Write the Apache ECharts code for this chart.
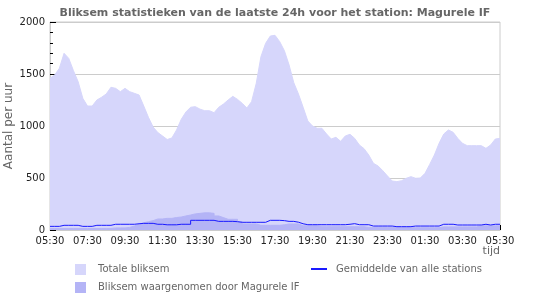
<!DOCTYPE html>
<html>
<head>
<meta charset="utf-8">
<script src="https://cdn.jsdelivr.net/npm/echarts@6/dist/echarts.min.js"></script>
<style>
  html, body { margin: 0; padding: 0; background: #fff; }
  #chart { width: 550px; height: 300px; }
</style>
</head>
<body>
<div id="chart"></div>
<script>
// 15-minute steps from 05:30 to 05:30 the next day (minutes since start)
const stepMinutes = 15
const tickLabels = ['05:30', '07:30', '09:30', '11:30', '13:30', '15:30', '17:30', '19:30', '21:30', '23:30', '01:30', '03:30', '05:30']

const totaal = [
  1460, 1490, 1555, 1699, 1650, 1532, 1426, 1266, 1192, 1192,
  1250, 1276, 1308, 1372, 1362, 1330, 1362, 1330, 1314, 1298,
  1192, 1083, 990, 937, 904, 870, 885, 962, 1064, 1135,
  1180, 1186, 1162, 1147, 1147, 1128, 1180, 1211, 1250, 1285,
  1256, 1218, 1173, 1234, 1410, 1667, 1795, 1865, 1872, 1811,
  1724, 1587, 1417, 1308, 1180, 1048, 1000, 978, 978, 923,
  875, 891, 853, 904, 920, 881, 817, 782, 721, 641,
  615, 570, 519, 471, 465, 474, 497, 513, 497, 500,
  545, 631, 721, 833, 923, 962, 939, 881, 833, 811,
  811, 811, 811, 785, 817, 875, 881
]

const station = [
  15, 15, 15, 15, 15, 15, 15, 15, 15, 15,
  15, 15, 15, 20, 20, 20, 25, 38, 55, 70,
  80, 90, 106, 106, 112, 112, 120, 125, 135, 144,
  155, 160, 165, 165, 160, 135, 119, 103, 103, 103,
  80, 58, 58, 58, 45, 45, 45, 45, 45, 50,
  58, 58, 58, 40, 40, 40, 40, 32, 32, 32,
  32, 32, 32, 32, 32, 32, 32, 25, 25, 25,
  25, 25, 25, 25, 25, 25, 22, 22, 22, 22,
  22, 22, 22, 30, 30, 30, 30, 30, 30, 30,
  30, 40, 40, 40, 40, 40, 40
]

const gemiddelde = [
  35, 35, 45, 45, 45, 45, 35, 35, 35, 45,
  45, 45, 45, 55, 55, 55, 55, 55, 60, 64,
  64, 64, 55, 55, 50, 50, 50, 55, 55, 55,
  93, 93, 93, 93, 93, 83, 83, 83, 83, 80,
  74, 74, 74, 74, 74, 74, 93, 93, 93, 90,
  83, 83, 75, 60, 51, 51, 51, 51, 51, 51,
  51, 51, 51, 55, 61, 51, 51, 51, 38, 38,
  38, 38, 38, 32, 32, 32, 32, 38, 38, 38,
  38, 38, 38, 55, 55, 55, 48, 48, 48, 48,
  48, 48, 55, 48, 55, 55, 55
]

const pairs = arr => arr.map((v, i) => [i * stepMinutes, v])

const chart = echarts.init(document.getElementById('chart'))
const font = 'DejaVu Sans'

chart.setOption({
  animation: false,
  backgroundColor: '#fff',
  title: {
    text: 'Bliksem statistieken van de laatste 24h voor het station: Magurele IF',
    left: 'center',
    top: 3,
    textStyle: { fontFamily: font, fontSize: 11, fontWeight: 'bold', color: '#666' },
  },
  grid: {
    left: 50, right: 50, top: 22, bottom: 70,
    outerBoundsMode: 'none',
    show: true, borderColor: '#ccc', borderWidth: 1,
  },
  legend: [
    {
      orient: 'vertical',
      left: 75,
      top: 264,
      padding: 0,
      itemGap: 7,
      itemWidth: 11,
      itemHeight: 11,
      textStyle: { fontFamily: font, fontSize: 10, color: '#666', padding: [0, 0, 0, 7] },
      data: [
        { name: 'Totale bliksem', icon: 'rect' },
        { name: 'Bliksem waargenomen door Magurele IF', icon: 'rect' },
      ],
    },
    {
      left: 311,
      top: 264,
      padding: 0,
      itemWidth: 16,
      itemHeight: 2,
      textStyle: { fontFamily: font, fontSize: 10, color: '#666', padding: [0, 0, 0, 4] },
      data: [{ name: 'Gemiddelde van alle stations', icon: 'path://M0,0H16V2H0Z' }],
    },
  ],
  xAxis: {
    type: 'value',
    min: 0,
    max: 1440,
    interval: 120,
    name: 'tijd',
    nameLocation: 'end',
    nameGap: 0,
    nameTextStyle: { fontFamily: font, fontSize: 11, color: '#666', align: 'right', verticalAlign: 'top', padding: [16, 0, 0, 0] },
    axisLine: { show: true, lineStyle: { color: '#ccc' } },
    axisTick: { show: true, inside: true, length: 5, lineStyle: { color: '#000' } },
    minorTick: { show: true, splitNumber: 4, length: 3, lineStyle: { color: '#000' } },
    splitLine: { show: false },
    axisLabel: {
      fontFamily: font, fontSize: 10, color: '#222', margin: 6,
      formatter: v => tickLabels[Math.round(v / 120)],
    },
  },
  yAxis: {
    type: 'value',
    min: 0,
    max: 2000,
    interval: 500,
    name: 'Aantal per uur',
    nameLocation: 'middle',
    nameGap: 35,
    nameMoveOverlap: false,
    nameTextStyle: { fontFamily: font, fontSize: 12, color: '#666' },
    axisLine: { show: true, lineStyle: { color: '#ccc' } },
    axisTick: { show: true, inside: true, length: 6, lineStyle: { color: '#000' } },
    minorTick: { show: true, splitNumber: 5, length: 3, lineStyle: { color: '#000' } },
    splitLine: { show: true, lineStyle: { color: '#ccc' } },
    axisLabel: { fontFamily: font, fontSize: 10, color: '#222', margin: 5, formatter: v => String(v) },
  },
  series: [
    {
      name: 'Totale bliksem',
      type: 'line',
      symbol: 'none',
      data: pairs(totaal),
      itemStyle: { color: '#d6d6fb' },
      lineStyle: { color: '#d6d6fb', width: 1 },
      areaStyle: { color: '#d6d6fb', opacity: 1 },
      z: 1,
    },
    {
      name: 'Bliksem waargenomen door Magurele IF',
      type: 'line',
      step: 'end',
      symbol: 'none',
      data: pairs(station),
      itemStyle: { color: '#b4b4f6' },
      lineStyle: { color: '#b4b4f6', width: 1 },
      areaStyle: { color: '#b4b4f6', opacity: 1 },
      z: 2,
    },
    {
      name: 'Gemiddelde van alle stations',
      type: 'line',
      step: 'end',
      symbol: 'none',
      data: pairs(gemiddelde),
      itemStyle: { color: '#1a1aff' },
      lineStyle: { color: '#1a1aff', width: 1 },
      z: 3,
    },
  ],
})
</script>
</body>
</html>
